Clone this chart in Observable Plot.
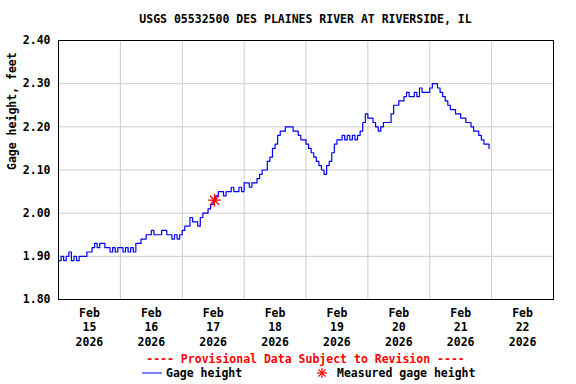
<!DOCTYPE html>
<html>
<head>
<meta charset="utf-8">
<script src="https://cdn.jsdelivr.net/npm/d3@7"></script>
<script src="https://cdn.jsdelivr.net/npm/@observablehq/plot@0.6"></script>
<style>
  html, body { margin: 0; padding: 0; background: #fff; }
  #wrap { position: relative; width: 576px; height: 384px; font-family: "DejaVu Sans Mono", monospace; font-weight: bold; font-size: 11.5px; }
  #title { position: absolute; left: 58px; width: 495px; top: 12px; line-height: 14px; text-align: center; color: #000; }
  #chart { position: absolute; left: 0; top: 30px; }
  #prov { position: absolute; left: 58px; width: 495px; top: 352px; line-height: 14px; text-align: center; color: #ff0000; }
  #legend { position: absolute; left: 0; top: 366px; width: 576px; height: 16px; }
  .lg { position: absolute; top: 0; line-height: 14px; color: #000; white-space: nowrap; }
</style>
</head>
<body>
<div id="wrap">
  <div id="title"></div>
  <div id="chart"></div>
  <div id="prov"></div>
  <div id="legend">
    <svg style="position:absolute;left:140px;top:0" width="24" height="14"><line x1="2" y1="7" x2="22" y2="7" stroke="#0000ff" stroke-width="1"/></svg>
    <span class="lg" id="lg1" style="left:166px"></span>
    <svg style="position:absolute;left:314px;top:0" width="16" height="14">
      <g stroke="#ff0000" stroke-width="1.2" transform="translate(8,7)">
        <line x1="-5" y1="0" x2="5" y2="0"/><line x1="0" y1="-5" x2="0" y2="5"/>
        <line x1="-3.6" y1="-3.6" x2="3.6" y2="3.6"/><line x1="-3.6" y1="3.6" x2="3.6" y2="-3.6"/>
      </g>
    </svg>
    <span class="lg" id="lg2" style="left:337px"></span>
  </div>
</div>
<script>
// ---- Text ----
const titleText = "USGS 05532500 DES PLAINES RIVER AT RIVERSIDE, IL";
const yLabel = "Gage height, feet";
const provisionalText = "---- Provisional Data Subject to Revision ----";
const legendLine = "Gage height";
const legendMeasured = "Measured gage height";

// ---- Axis ticks ----
const yTicks = [1.8, 1.9, 2.0, 2.1, 2.2, 2.3, 2.4];
const yGrid = [1.9, 2.0, 2.1, 2.2, 2.3];
const dayLabels = ["15", "16", "17", "18", "19", "20", "21", "22"];
const monthLabel = "Feb";
const yearLabel = "2026";

// ---- Hourly gage height (ft), starting Feb 15 2026 00:00 ----
const feb15 = [1.89,1.90,1.89,1.90,1.91,1.89,1.90,1.89,1.90,1.90,1.90,1.91,1.91,1.92,1.93,1.92,1.93,1.93,1.92,1.92,1.91,1.92,1.91,1.92];
const feb16 = [1.92,1.91,1.92,1.91,1.92,1.91,1.93,1.93,1.94,1.94,1.95,1.95,1.96,1.95,1.95,1.95,1.96,1.96,1.95,1.95,1.94,1.95,1.94,1.95];
const feb17 = [1.96,1.97,1.97,1.99,1.98,1.98,1.97,1.99,2.00,2.00,2.01,2.02,2.03,2.04,2.05,2.05,2.04,2.05,2.05,2.06,2.05,2.05,2.06,2.05];
const feb18 = [2.07,2.07,2.06,2.07,2.07,2.08,2.09,2.10,2.10,2.12,2.13,2.15,2.16,2.18,2.19,2.19,2.20,2.20,2.20,2.19,2.19,2.18,2.17,2.17];
const feb19 = [2.16,2.15,2.14,2.13,2.12,2.11,2.10,2.09,2.11,2.12,2.14,2.16,2.17,2.17,2.18,2.17,2.18,2.17,2.18,2.17,2.18,2.19,2.21,2.23];
const feb20 = [2.22,2.22,2.21,2.20,2.19,2.20,2.21,2.21,2.21,2.23,2.25,2.25,2.26,2.26,2.27,2.28,2.27,2.27,2.28,2.27,2.29,2.28,2.28,2.28];
const feb21 = [2.29,2.30,2.30,2.29,2.28,2.27,2.26,2.25,2.24,2.24,2.23,2.23,2.22,2.22,2.21,2.21,2.20,2.19,2.19,2.18,2.17,2.16,2.16,2.15];

// ---- Measured gage height ----
const measuredTime = ["2026-02-17T12:30:00Z"];
const measuredValue = [2.03];

// ---- Build tables ----
const start = Date.UTC(2026, 1, 15);
const hour = 3600e3;
const gage = [feb15, feb16, feb17, feb18, feb19, feb20, feb21].flat()
  .map((v, i) => ({t: new Date(start + i * hour), v}));
const measured = measuredTime.map((t, i) => ({t: new Date(t), v: measuredValue[i]}));
const dayStarts = d3.range(1, 8).map(i => new Date(start + i * 24 * hour));
const noonLabels = dayLabels.map((d, i) => ({t: new Date(start + (i * 24 + 12) * hour), label: `${monthLabel}\n${d}\n${yearLabel}`}));

const star8 = {
  draw(context, size) {
    const r = Math.sqrt(size) * 0.9;
    const a = r * Math.SQRT1_2;
    context.moveTo(-r, 0); context.lineTo(r, 0);
    context.moveTo(0, -r); context.lineTo(0, r);
    context.moveTo(-a, -a); context.lineTo(a, a);
    context.moveTo(-a, a); context.lineTo(a, -a);
  }
};

const chart = Plot.plot({
  width: 576,
  height: 319,
  marginTop: 10,
  marginBottom: 50,
  marginLeft: 58,
  marginRight: 23,
  style: {fontFamily: "'DejaVu Sans Mono', monospace", fontSize: "11.5px", fontWeight: "bold", color: "#000", background: "#fff"},
  x: {type: "utc", domain: [new Date(start), new Date(start + 8 * 24 * hour)], axis: null},
  y: {domain: [1.8, 2.4], axis: null},
  marks: [
    Plot.ruleX(dayStarts, {stroke: "#cccccc", strokeWidth: 1}),
    Plot.ruleY(yGrid, {stroke: "#cccccc", strokeWidth: 1}),
    Plot.axisY({ticks: yTicks, tickSize: 0, tickPadding: 8, tickFormat: d3.format(".2f"), label: null}),
    Plot.text(noonLabels, {x: "t", text: "label", frameAnchor: "bottom", lineAnchor: "top", dy: 8, lineHeight: 1.22}),
    Plot.text([yLabel], {frameAnchor: "left", dx: -46, rotate: -90}),
    Plot.line(gage, {x: "t", y: "v", stroke: "#0000ff", strokeWidth: 1.2, curve: "step-after"}),
    Plot.dot(measured, {x: "t", y: "v", symbol: star8, r: 4, stroke: "#ff0000", strokeWidth: 1.2, fill: "none"}),
    Plot.frame({stroke: "#000", strokeWidth: 1})
  ]
});

document.getElementById("chart").appendChild(chart);
document.getElementById("title").textContent = titleText;
document.getElementById("prov").textContent = provisionalText;
document.getElementById("lg1").textContent = legendLine;
document.getElementById("lg2").textContent = legendMeasured;
</script>
</body>
</html>
